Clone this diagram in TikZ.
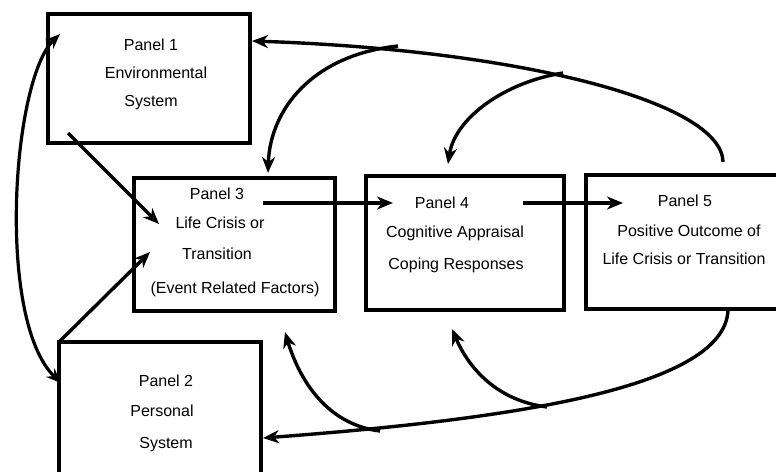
\documentclass[tikz,border=0pt]{standalone}
\usepackage{fontspec}
\setmainfont{Liberation Sans}
\usetikzlibrary{arrows.meta}
\newfontfamily\lblfamily{Liberation Sans}
\begin{document}
\begin{tikzpicture}[x=1pt,y=-1pt,
  box/.style={draw, line width=3.6pt, inner sep=0pt},
  conn/.style={line width=3.4pt, -{Stealth[length=16pt,width=13pt,inset=5pt]}},
  dconn/.style={line width=3.2pt, {Stealth[length=15pt,width=12pt,inset=5pt]}-{Stealth[length=15pt,width=12pt,inset=5pt]}},
  lbl/.style={font=\lblfamily\fontsize{16}{18}\selectfont, inner sep=0pt, anchor=base}
]
\useasboundingbox[fill=white] (0,0) rectangle (776,471);
% boxes
\node[box, minimum width=202pt, minimum height=129pt] (p1) at (149,78.5) {};
\node[box, minimum width=201pt, minimum height=133pt] (p3) at (234.5,244.5) {};
\node[box, minimum width=198pt, minimum height=134pt] (p4) at (465,243) {};
\node[box, minimum width=204pt, minimum height=134pt] (p5) at (688,242) {};
\node[box, minimum width=202pt, minimum height=140pt] (p2) at (160,412) {};
% texts
\node[lbl] (t11) at (151,50) {Panel 1};
\node[lbl] (t12) at (156,78) {Environmental};
\node[lbl] (t13) at (151,106) {System};
\node[lbl] (t31) at (217,199) {Panel 3};
\node[lbl] (t32) at (220,228) {Life Crisis or};
\node[lbl] (t33) at (217,259) {Transition};
\node[lbl] (t34) at (235,293) {(Event Related Factors)};
\node[lbl] (t41) at (442,208) {Panel 4};
\node[lbl] (t42) at (455,237) {Cognitive Appraisal};
\node[lbl] (t43) at (456,269) {Coping Responses};
\node[lbl] (t51) at (685,206) {Panel 5};
\node[lbl] (t52) at (689,236) {Positive Outcome of};
\node[lbl] (t53) at (684,264) {Life Crisis or Transition};
\node[lbl] (t21) at (166,386) {Panel 2};
\node[lbl] (t22) at (162,416) {Personal};
\node[lbl] (t23) at (166,448) {System};
% connector end points
\coordinate (a1s) at (68,133);
\coordinate (a1e) at (159,224);
\coordinate (a2s) at (59,342);
\coordinate (a2e) at (150,252);
\coordinate (a3s) at (263,203);
\coordinate (a3e) at (393,203);
\coordinate (a4s) at (523,203);
\coordinate (a4e) at (623,203);
\coordinate (p5top) at (723,162);
\coordinate (p1r) at (252,41);
\coordinate (jt1) at (563,73);
\coordinate (jt2) at (398,46);
\coordinate (p4t) at (448,164);
\coordinate (p3t) at (268,173);
\coordinate (p5bot) at (728,310);
\coordinate (p2r) at (263,438);
\coordinate (jb1) at (547,407);
\coordinate (jb2) at (380,431);
\coordinate (p4b) at (452,329);
\coordinate (p3b) at (285,332);
\coordinate (p1l) at (60,34);
\coordinate (p2l) at (61,383);
% straight connectors
\draw[conn] (a1s) -- (a1e);
\draw[conn] (a2s) -- (a2e);
\draw[conn] (a3s) -- (a3e);
\draw[conn] (a4s) -- (a4e);
% top feedback
\draw[conn] (p5top) .. controls (722,102) and (520,50) .. (p1r);
\draw[conn] (jt1) .. controls (505,82) and (455,118) .. (p4t);
\draw[conn] (jt2) .. controls (312,55) and (270,110) .. (p3t);
% bottom feedback
\draw[conn] (p5bot) .. controls (725,390) and (500,420) .. (p2r);
\draw[conn] (jb1) .. controls (492,400) and (466,362) .. (p4b);
\draw[conn] (jb2) .. controls (322,424) and (297,372) .. (p3b);
% left double arrow
\draw[dconn] (p1l) .. controls (12,80) and (-4,320) .. (p2l);
\end{tikzpicture}
\end{document}
